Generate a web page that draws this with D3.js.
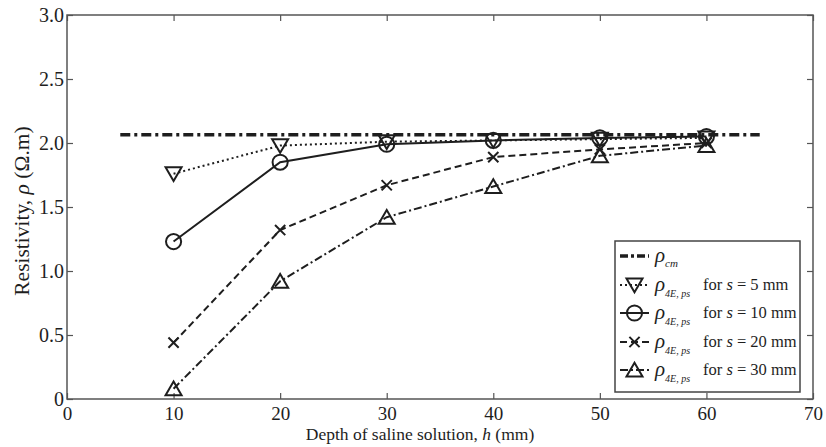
<!DOCTYPE html>
<html lang="en">
<head>
  <meta charset="UTF-8" />
  <title>Resistivity vs depth</title>
  <style>
    body { margin: 0; background: #fff; }
    svg text { font-family: "Liberation Serif", "Times New Roman", serif; fill: #1e1e1e; }
    .frame { fill: none; stroke: #555; stroke-width: 1.5px; }
    .series { fill: none; stroke: #1e1e1e; stroke-width: 2px; }
    .marker { fill: none; stroke: #1e1e1e; stroke-width: 2px; }
  </style>
</head>
<body>
  <script src="https://d3js.org/d3.v7.min.js"></script>
  <script>
    // depth of saline solution (mm)
    const depths = [10, 20, 30, 40, 50, 60];
    // reference resistivity rho_cm, drawn from h=5 to h=65
    const rhoCm = 2.065;
    const rhoCmRange = [5, 65];
    // rho_4E,ps for different electrode spacing s
    const s5 = [1.76, 1.98, 2.01, 2.02, 2.03, 2.04];
    const s10 = [1.23, 1.85, 1.99, 2.02, 2.04, 2.05];
    const s20 = [0.44, 1.32, 1.67, 1.89, 1.95, 2.00];
    const s30 = [0.08, 0.92, 1.42, 1.66, 1.90, 1.98];

    const xTicks = [0, 10, 20, 30, 40, 50, 60, 70];
    const yTicks = [0, 0.5, 1.0, 1.5, 2.0, 2.5, 3.0];

    const width = 826, height = 447;
    const margin = { top: 15, right: 13, bottom: 48, left: 67 };

    const svg = d3.select("body").append("svg")
      .attr("width", width)
      .attr("height", height);

    const x = d3.scaleLinear().domain([0, 70]).range([margin.left, width - margin.right]);
    const y = d3.scaleLinear().domain([0, 3]).range([height - margin.bottom, margin.top]);

    const fmtY = d => d === 0 ? "0" : d3.format(".1f")(d);

    // axes with inward ticks on all four sides
    svg.append("g")
      .attr("transform", `translate(0,${y(0)})`)
      .call(d3.axisBottom(x).tickValues(xTicks).tickSize(-6).tickPadding(8).tickFormat(d3.format("d")))
      .call(g => g.select(".domain").remove())
      .call(g => g.selectAll("text").attr("font-size", 19));

    svg.append("g")
      .attr("transform", `translate(0,${y(3)})`)
      .call(d3.axisTop(x).tickValues(xTicks).tickSize(-6).tickFormat(""))
      .call(g => g.select(".domain").remove());

    svg.append("g")
      .attr("transform", `translate(${x(0)},0)`)
      .call(d3.axisLeft(y).tickValues(yTicks).tickSize(-6).tickPadding(3).tickFormat(fmtY))
      .call(g => g.select(".domain").remove())
      .call(g => g.selectAll("text").attr("font-size", 20));

    svg.append("g")
      .attr("transform", `translate(${x(70)},0)`)
      .call(d3.axisRight(y).tickValues(yTicks).tickSize(-6).tickFormat(""))
      .call(g => g.select(".domain").remove());

    svg.selectAll(".tick line").attr("stroke", "#555").attr("stroke-width", 1.2);

    svg.append("rect").attr("class", "frame")
      .attr("x", x(0)).attr("y", y(3))
      .attr("width", x(70) - x(0)).attr("height", y(0) - y(3));

    // axis titles
    svg.append("text")
      .attr("x", 420).attr("y", 440)
      .attr("text-anchor", "middle").attr("font-size", 17.5)
      .html('Depth of saline solution, <tspan font-style="italic">h</tspan> (mm)');

    svg.append("text")
      .attr("transform", `translate(29,211) rotate(-90)`)
      .attr("text-anchor", "middle").attr("font-size", 21.5)
      .html('Resistivity, <tspan font-style="italic">ρ</tspan> (Ω.m)');

    // marker shapes
    const triDown = d3.symbol().type({ draw(ctx, size) {
      const r = Math.sqrt(size) / 2;
      ctx.moveTo(-r, -r * 0.8); ctx.lineTo(r, -r * 0.8); ctx.lineTo(0, r * 0.9); ctx.closePath();
    } }).size(256);
    const triUp = d3.symbol().type({ draw(ctx, size) {
      const r = Math.sqrt(size) / 2;
      ctx.moveTo(-r, r * 0.8); ctx.lineTo(r, r * 0.8); ctx.lineTo(0, -r * 0.9); ctx.closePath();
    } }).size(256);
    const cross = d3.symbol().type(d3.symbolX).size(70);
    const circle = d3.symbol().type(d3.symbolCircle).size(180);

    const series = [
      { vals: s5, dash: "2,3", sym: triDown, label: "5" },
      { vals: s10, dash: null, sym: circle, label: "10" },
      { vals: s20, dash: "7,4", sym: cross, label: "20" },
      { vals: s30, dash: "8,3,2,3", sym: triUp, label: "30" }
    ];

    const line = d3.line().x((d, i) => x(depths[i])).y(d => y(d));

    // rho_cm reference line
    svg.append("line")
      .attr("x1", x(rhoCmRange[0])).attr("x2", x(rhoCmRange[1]))
      .attr("y1", y(rhoCm)).attr("y2", y(rhoCm))
      .attr("stroke", "#1e1e1e").attr("stroke-width", 3.4)
      .attr("stroke-dasharray", "10,4,3,4");

    series.forEach(s => {
      svg.append("path").datum(s.vals)
        .attr("class", "series")
        .attr("stroke-dasharray", s.dash)
        .attr("d", line);
      svg.append("g").selectAll("path")
        .data(s.vals).enter().append("path")
        .attr("class", "marker")
        .attr("transform", (d, i) => `translate(${x(depths[i])},${y(d)})`)
        .attr("d", s.sym());
    });

    // legend
    const lg = svg.append("g").attr("transform", "translate(615,241)");
    lg.append("rect").attr("width", 185).attr("height", 151)
      .attr("fill", "#fff").attr("stroke", "#444").attr("stroke-width", 1.5);

    const rowY = [15, 44, 72, 101, 129];
    lg.append("line").attr("x1", 5).attr("x2", 34).attr("y1", rowY[0]).attr("y2", rowY[0])
      .attr("stroke", "#1e1e1e").attr("stroke-width", 3.4).attr("stroke-dasharray", "8,3,3,3");
    lg.append("text").attr("x", 40).attr("y", rowY[0] + 6).attr("font-size", 21)
      .html('<tspan font-style="italic">ρ</tspan><tspan font-style="italic" font-size="11" dy="5">cm</tspan>');

    series.forEach((s, k) => {
      const yy = rowY[k + 1];
      lg.append("line").attr("x1", 5).attr("x2", 34).attr("y1", yy).attr("y2", yy)
        .attr("stroke", "#1e1e1e").attr("stroke-width", 2)
        .attr("stroke-dasharray", s.dash);
      lg.append("path").attr("class", "marker")
        .attr("transform", `translate(19.5,${yy})`).attr("d", s.sym());
      lg.append("text").attr("x", 40).attr("y", yy + 6).attr("font-size", 21)
        .html('<tspan font-style="italic">ρ</tspan><tspan font-style="italic" font-size="10" dy="6">4E, ps</tspan>');
      lg.append("text").attr("x", 88).attr("y", yy + 5).attr("font-size", 16.5)
        .html(`for <tspan font-style="italic">s</tspan> = ${s.label} mm`);
    });
  </script>
</body>
</html>
